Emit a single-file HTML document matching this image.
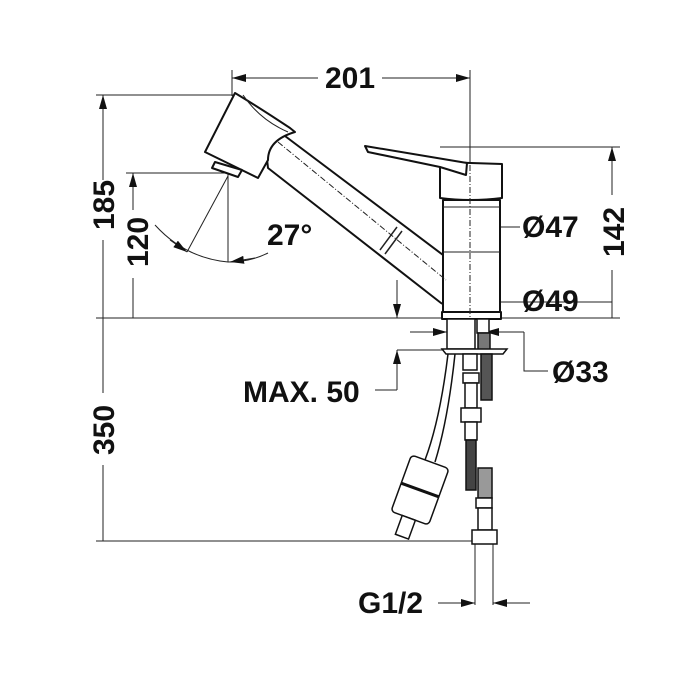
<!DOCTYPE html>
<html><head><meta charset="utf-8"><style>
html,body{margin:0;padding:0;background:#fff}
svg{display:block}
text{font-family:"Liberation Sans",sans-serif;font-weight:bold;font-size:30px;fill:#111}
</style></head><body>
<svg width="700" height="700" viewBox="0 0 700 700" xmlns="http://www.w3.org/2000/svg">
<defs>
<marker id="a" markerWidth="14" markerHeight="8" refX="14" refY="4" orient="auto" markerUnits="userSpaceOnUse"><path d="M0,0 L14,4 L0,8 Z" fill="#111"/></marker>
</defs>
<g stroke="#222" stroke-width="1" fill="none">
<line x1="232" y1="78" x2="318" y2="78" />
<line x1="382" y1="78" x2="470" y2="78" />
<line x1="300" y1="78" x2="232" y2="78" marker-end="url(#a)"/>
<line x1="400" y1="78" x2="470" y2="78" marker-end="url(#a)"/>
<line x1="232" y1="70" x2="232" y2="96"/>
<line x1="470" y1="70" x2="470" y2="318"/>
<line x1="103" y1="95" x2="103" y2="168"/>
<line x1="103" y1="240" x2="103" y2="318"/>
<line x1="103" y1="180" x2="103" y2="95" marker-end="url(#a)"/>
<line x1="96" y1="95" x2="236" y2="95"/>
<line x1="133" y1="173" x2="133" y2="205"/>
<line x1="133" y1="278" x2="133" y2="318"/>
<line x1="133" y1="210" x2="133" y2="173" marker-end="url(#a)"/>
<line x1="126" y1="173" x2="230" y2="173"/>
<line x1="96" y1="318" x2="620" y2="318"/>
<line x1="103" y1="318" x2="103" y2="393"/>
<line x1="103" y1="465" x2="103" y2="541"/>
<line x1="96" y1="541" x2="475" y2="541"/>
<line x1="612" y1="147" x2="612" y2="195"/>
<line x1="612" y1="270" x2="612" y2="318"/>
<line x1="440" y1="147" x2="620" y2="147"/>
<line x1="612" y1="190" x2="612" y2="147" marker-end="url(#a)"/>
<line x1="443" y1="227" x2="520" y2="227"/>
<line x1="465" y1="227" x2="445" y2="227" marker-end="url(#a)"/>
<line x1="478" y1="227" x2="498" y2="227" marker-end="url(#a)"/>
<line x1="443" y1="302" x2="612" y2="302"/>
<line x1="465" y1="302" x2="445" y2="302" marker-end="url(#a)"/>
<line x1="478" y1="302" x2="498" y2="302" marker-end="url(#a)"/>
<line x1="410" y1="332" x2="447" y2="332" marker-end="url(#a)"/>
<line x1="524" y1="332" x2="485" y2="332" marker-end="url(#a)"/>
<path d="M524,332 L524,371 L548,371"/>
<line x1="397" y1="280" x2="397" y2="318" marker-end="url(#a)"/>
<line x1="397" y1="390" x2="397" y2="350" marker-end="url(#a)"/>
<path d="M397,350 L445,350 M397,390 L375,390"/>
<line x1="475" y1="541" x2="475" y2="605"/>
<line x1="493" y1="541" x2="493" y2="605"/>
<line x1="438" y1="603" x2="475" y2="603" marker-end="url(#a)"/>
<line x1="530" y1="603" x2="493" y2="603" marker-end="url(#a)"/>
<line x1="228" y1="173" x2="228" y2="262"/>
<line x1="228" y1="176" x2="187" y2="252"/>
<path d="M155,225 Q185,258 228,262 Q250,262 268,253"/>
<line x1="170" y1="240" x2="187" y2="252" marker-end="url(#a)"/>
<line x1="255" y1="258" x2="230" y2="262" marker-end="url(#a)"/>
</g>
<g stroke="#111" stroke-width="2" fill="#fff" stroke-linejoin="round">
<path d="M277,130 L447,258 L447,300 Q445,306 441,303 L268,168 Q264,140 277,130 Z"/>
<path d="M443,200 L500,200 L500,312 L443,312 Z"/>
<path d="M442,312 L501,312 L501,319 L442,319 Z"/>
<path d="M440,162 L502,164 L502,198 Q470,202 440,198 Z"/>
<path d="M365,146 L368,152 L440,167 L466,175 L467,163 Z"/>
<path d="M235,93 L205,152 L258,178 L268,160 Q268,140 295,132 L290,128 Q260,108 235,93 Z"/>
<path d="M215,162 L242,170 L238,177 L212,168 Z"/>
</g>
<g stroke="#222" stroke-width="1" fill="none">
<path d="M243,95 Q260,120 288,132"/>
<line x1="278" y1="142" x2="446" y2="280" stroke-dasharray="6,2,1,2"/>
<line x1="470" y1="165" x2="470" y2="318" stroke-dasharray="6,2,1,2"/>
<line x1="443" y1="207" x2="500" y2="207"/>
<line x1="443" y1="252" x2="500" y2="252"/>
<path d="M397,227 L380,250 M402,231 L385,254" stroke-width="1.5"/>
</g>
<g stroke="#111" stroke-width="1.5" fill="#fff">
<rect x="447" y="319" width="28" height="30"/>
<rect x="477" y="319" width="12" height="14"/>
<rect x="478" y="333" width="12" height="18" fill="#777"/>
<path d="M442,349 L507,349 L503,354 L446,354 Z"/>
<rect x="481" y="354" width="11" height="46" fill="#555"/>
<rect x="463" y="354" width="14" height="16"/>
<rect x="463" y="373" width="16" height="10"/>
<rect x="465" y="383" width="12" height="25"/>
<rect x="461" y="408" width="20" height="14"/>
<rect x="465" y="422" width="12" height="18"/>
<rect x="466" y="440" width="10" height="50" fill="#444"/>
<rect x="478" y="468" width="14" height="30" fill="#999"/>
<rect x="476" y="498" width="16" height="10"/>
<rect x="478" y="508" width="14" height="22"/>
<rect x="472" y="530" width="25" height="14"/>
<path d="M448,354 Q440,420 425,460" fill="none"/>
<path d="M455,354 Q448,420 435,462" fill="none"/>
<g transform="rotate(20 420 490)">
<rect x="400" y="460" width="40" height="60" rx="4"/>
<line x1="400" y1="490" x2="440" y2="490" stroke-width="3"/>
<rect x="412" y="520" width="14" height="20"/>
</g>
</g>
<text x="350" y="88" text-anchor="middle">201</text>
<text transform="translate(114,205) rotate(-90)" text-anchor="middle">185</text>
<text transform="translate(148,242) rotate(-90)" text-anchor="middle">120</text>
<text x="267" y="245">27°</text>
<text transform="translate(624,232) rotate(-90)" text-anchor="middle">142</text>
<text x="522" y="237">Ø47</text>
<text x="522" y="311">Ø49</text>
<text x="552" y="382">Ø33</text>
<text x="243" y="402">MAX. 50</text>
<text transform="translate(114,430) rotate(-90)" text-anchor="middle">350</text>
<text x="358" y="613">G1/2</text>
</svg>
</body></html>
